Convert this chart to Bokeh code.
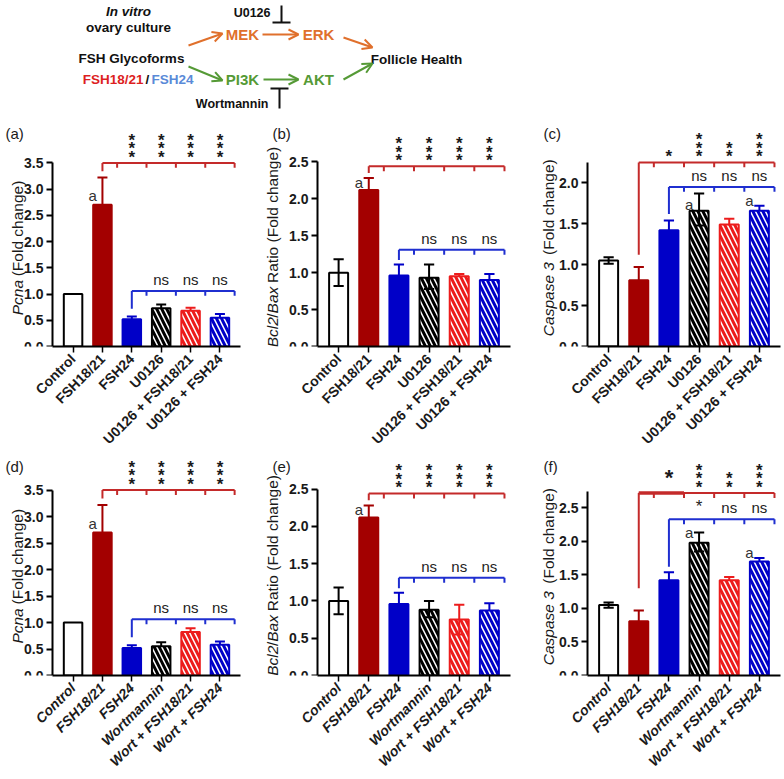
import math
import numpy as np
from bokeh.plotting import figure
from bokeh.layouts import column, row
from bokeh.models import Range1d, FixedTicker, Arrow, OpenHead, NumeralTickFormatter
from bokeh.core.properties import value
from bokeh.embed import file_html
from bokeh.resources import INLINE

FONT = "Liberation Sans"

# ---------------- data ----------------
cats_u0126 = ["Control", "FSH18/21", "FSH24", "U0126", "U0126 + FSH18/21", "U0126 + FSH24"]
cats_wort = ["Control", "FSH18/21", "FSH24", "Wortmannin", "Wort + FSH18/21", "Wort + FSH24"]

pcna_u_mean = [1.00, 2.70, 0.52, 0.73, 0.68, 0.55]
pcna_u_up = [0.00, 0.52, 0.05, 0.07, 0.06, 0.07]
pcna_u_dn = [0.00, 0.00, 0.00, 0.00, 0.00, 0.00]

bcl_u_mean = [1.00, 2.12, 0.96, 0.93, 0.95, 0.90]
bcl_u_up = [0.18, 0.16, 0.15, 0.18, 0.03, 0.08]
bcl_u_dn = [0.18, 0.00, 0.00, 0.15, 0.00, 0.00]

casp_u_mean = [1.05, 0.81, 1.42, 1.66, 1.49, 1.66]
casp_u_up = [0.04, 0.16, 0.12, 0.21, 0.07, 0.06]
casp_u_dn = [0.04, 0.00, 0.00, 0.18, 0.00, 0.00]

pcna_w_mean = [1.00, 2.70, 0.52, 0.55, 0.82, 0.58]
pcna_w_up = [0.00, 0.52, 0.05, 0.08, 0.07, 0.06]
pcna_w_dn = [0.00, 0.00, 0.00, 0.00, 0.00, 0.00]

bcl_w_mean = [1.00, 2.12, 0.96, 0.88, 0.75, 0.87]
bcl_w_up = [0.18, 0.16, 0.15, 0.12, 0.20, 0.10]
bcl_w_dn = [0.18, 0.00, 0.00, 0.10, 0.20, 0.00]

casp_w_mean = [1.05, 0.81, 1.42, 1.98, 1.42, 1.70]
casp_w_up = [0.04, 0.16, 0.12, 0.15, 0.05, 0.05]
casp_w_dn = [0.04, 0.00, 0.00, 0.13, 0.00, 0.00]

# significance marks (red: vs FSH18/21 for groups 2..5; blue: vs FSH24 for groups 3..5)
sig_red_a = ["***", "***", "***", "***"]
sig_blue_a = ["ns", "ns", "ns"]
sig_red_c = ["*", "***", "**", "***"]
sig_blue_c = ["ns", "ns", "ns"]
sig_red_f = ["*", "***", "**", "***"]
sig_blue_f = ["*", "ns", "ns"]

# "a" letters: group index and height
a_idx_pcna = [1]
a_y_pcna = [2.87]
a_idx_bcl = [1]
a_y_bcl = [2.22]
a_idx_casp_u = [3, 5]
a_y_casp_u = [1.74, 1.78]
a_idx_casp_w = [3, 5]
a_y_casp_w = [2.13, 1.83]

# ---------------- styles / layout ----------------
DARK_RED = "#a30000"
BLUE = "#0000c8"
RED = "#ec1c1c"
BR_RED = "#c42a2a"
BR_BLUE = "#1f2fd0"
FILL = ["white", DARK_RED, BLUE, "white", "white", "white"]
LINE = ["black", DARK_RED, BLUE, "black", RED, BLUE]
HATCH = [" ", " ", " ", "\\", "\\", "\\"]

TOP_H = 122
ROW_H = [333, 323]
ROW_BB = [105, 100]
COL_W = [260, 260, 263]
COL_AX = [52, 57, 67]        # pixel position of the y axis inside each panel
COL_FW = [188, 193, 193]     # pixel width of the plotting area right of the y axis
COL_YLAB = [35, 45, 39]
COL_TAG = [47, 45, 44]
XAX, XHI = -0.7, 5.7

ARIAL_W = {" ": 278, "(": 333, ")": 333, "/": 278, "2": 556, "3": 556, "B": 667, "C": 722,
           "F": 611, "P": 667, "R": 722, "a": 556, "c": 500, "d": 556, "e": 556, "g": 556,
           "h": 556, "i": 222, "l": 222, "n": 556, "o": 556, "p": 556, "s": 500, "t": 278, "x": 500}


def tw(s, size):
    return sum(ARIAL_W.get(ch, 556) for ch in s) * size / 1000.0


def make_panel(r, c, tag, cats, mean, up, dn, axis_top, yticks, ppu, red_level, red_drop,
               blue_level, blue_drop, red_marks, blue_marks, a_idx, a_y, ylabel, italic_x,
               emphasize=False):
    n = len(cats)
    xs = np.arange(n)
    W, H = COL_W[c], ROW_H[r]
    xpx = (XHI - XAX) / COL_FW[c]
    BR = W - COL_AX[c] - COL_FW[c]
    xlo = XAX - COL_AX[c] * xpx
    frame_h = H - 1 - ROW_BB[r]
    ytop = frame_h / ppu
    upx = 1.0 / ppu
    p = figure(width=W, height=H, x_range=Range1d(xlo, XHI), y_range=Range1d(0, ytop),
               toolbar_location=None, output_backend="svg",
               min_border_left=0, min_border_right=BR, min_border_top=1,
               min_border_bottom=ROW_BB[r])
    p.outline_line_color = None
    p.xgrid.visible = False
    p.ygrid.visible = False

    p.vbar(x=xs, top=mean, bottom=0, width=0.63, fill_color=FILL, line_color=LINE, line_width=2,
           hatch_pattern=HATCH, hatch_color=LINE, hatch_scale=10, hatch_weight=3)

    m = np.array(mean)
    u = np.array(up)
    d = np.array(dn)
    cols = np.array(LINE)
    has = u > 0
    p.segment(x0=xs[has], y0=(m - d)[has], x1=xs[has], y1=(m + u)[has],
              line_color=list(cols[has]), line_width=2)
    p.segment(x0=xs[has] - 0.17, y0=(m + u)[has], x1=xs[has] + 0.17, y1=(m + u)[has],
              line_color=list(cols[has]), line_width=2)
    lo = d > 0
    p.segment(x0=xs[lo] - 0.17, y0=(m - d)[lo], x1=xs[lo] + 0.17, y1=(m - d)[lo],
              line_color=list(cols[lo]), line_width=2)

    # red bracket
    rt = np.arange(1.5, n, 1.0)
    p.segment(x0=[1], y0=[red_level], x1=[n - 0.5], y1=[red_level], line_color=BR_RED, line_width=2)
    p.segment(x0=[1], y0=[red_level], x1=[1], y1=[red_drop], line_color=BR_RED, line_width=2)
    p.segment(x0=rt, y0=red_level, x1=rt, y1=red_level - 5 * upx, line_color=BR_RED, line_width=2)
    if emphasize:
        p.segment(x0=[1], y0=[red_level], x1=[2.5], y1=[red_level], line_color=BR_RED, line_width=3.5)
    # blue bracket
    bt = np.arange(2.5, n, 1.0)
    p.segment(x0=[2], y0=[blue_level], x1=[n - 0.5], y1=[blue_level], line_color=BR_BLUE, line_width=2)
    p.segment(x0=[2], y0=[blue_level], x1=[2], y1=[blue_drop], line_color=BR_BLUE, line_width=2)
    p.segment(x0=bt, y0=blue_level, x1=bt, y1=blue_level - 5 * upx, line_color=BR_BLUE, line_width=2)

    # significance texts
    marks = list(red_marks)
    if emphasize:
        p.text(x=[2], y=[red_level + 3 * upx], text=[marks[0]], text_font=value(FONT),
               text_font_size="22px", text_font_style="bold", text_color="#1a1a1a",
               text_align="center", text_baseline="bottom")
        marks[0] = ""
    rx = list(range(2, 2 + len(marks)))
    stacked = ["\n".join(list(s)) for s in marks]
    p.text(x=rx, y=[red_level - 4 * upx] * len(rx), text=stacked, text_font=value(FONT),
           text_font_size="17px", text_font_style="bold", text_color="#1a1a1a",
           text_align="center", text_baseline="bottom", text_line_height=0.45)
    bx = list(range(3, 3 + len(blue_marks)))
    bt_txt = ["\n".join(list(s)) if s.startswith("*") else s for s in blue_marks]
    bsize = ["17px" if s.startswith("*") else "15px" for s in blue_marks]
    p.text(x=bx, y=[blue_level + 3 * upx] * len(bx), text=bt_txt, text_font=value(FONT),
           text_font_size=bsize, text_color="#222222", text_align="center",
           text_baseline="bottom")

    # "a" letters
    p.text(x=[i - 0.33 for i in a_idx], y=a_y, text=["a"] * len(a_idx), text_font=value(FONT),
           text_font_size="15px", text_color="#333333", text_align="center", text_baseline="middle")

    # axes
    yax = p.yaxis[0]
    yax.fixed_location = XAX
    yax.ticker = FixedTicker(ticks=yticks)
    yax.formatter = NumeralTickFormatter(format="0.0")
    yax.bounds = (0, axis_top)
    yax.axis_line_width = 2
    yax.major_tick_line_width = 2
    yax.major_tick_out = 6
    yax.major_tick_in = 0
    yax.minor_tick_line_color = None
    yax.major_label_text_font = FONT
    yax.major_label_text_font_style = "bold"
    yax.major_label_text_font_size = "14px"
    yax.major_label_text_color = "#1a1a1a"
    yax.major_label_standoff = 3

    xax = p.xaxis[0]
    xax.ticker = FixedTicker(ticks=list(range(n)))
    xax.bounds = (XAX, XHI)
    xax.major_label_overrides = {i: c_ for i, c_ in enumerate(cats)}
    xax.major_label_orientation = math.pi / 4
    xax.axis_line_width = 2
    xax.major_tick_line_width = 1.5
    xax.major_tick_out = 6
    xax.major_tick_in = 0
    xax.minor_tick_line_color = None
    xax.major_label_text_font = FONT
    xax.major_label_text_font_style = "bold italic" if italic_x else "bold"
    xax.major_label_text_font_size = "14px"
    xax.major_label_text_color = "#1a1a1a"
    xax.major_label_standoff = 4

    # y-axis title from pieces (italic gene names)
    size = 15.5
    total = sum(tw(t, size) for t, _ in ylabel)
    off = (axis_top / 2.0) * ppu + 6 - total / 2.0
    lx = XAX - COL_YLAB[c] * xpx
    it_x, it_y, it_t, no_x, no_y, no_t = [], [], [], [], [], []
    for txt, ital in ylabel:
        if txt.strip():
            lead = tw(txt[: len(txt) - len(txt.lstrip())], size)
            (it_x if ital else no_x).append(lx)
            (it_y if ital else no_y).append((off + lead) * upx)
            (it_t if ital else no_t).append(txt.strip())
        off += tw(txt, size)
    p.text(x=it_x, y=it_y, text=it_t, angle=math.pi / 2, text_font=value(FONT),
           text_font_size=f"{size}px", text_font_style="italic", text_color="#1a1a1a",
           text_align="left", text_baseline="middle")
    p.text(x=no_x, y=no_y, text=no_t, angle=math.pi / 2, text_font=value(FONT),
           text_font_size=f"{size}px", text_font_style="normal", text_color="#1a1a1a",
           text_align="left", text_baseline="middle")

    # panel tag
    p.text(x=[XAX - COL_TAG[c] * xpx], y=[ytop - 2 * upx], text=[tag], text_font=value(FONT),
           text_font_size="15px", text_color="#1a1a1a", text_align="left", text_baseline="top")
    return p


lab_pcna = [("Pcna", True), (" (Fold change)", False)]
lab_bcl = [("Bcl2", True), ("/", False), ("Bax", True), (" Ratio (Fold change)", False)]
lab_casp = [("Caspase  3", True), (" (Fold change)", False)]

t35 = [0, 0.5, 1.0, 1.5, 2.0, 2.5, 3.0, 3.5]
t25 = [0, 0.5, 1.0, 1.5, 2.0, 2.5]
t20 = [0, 0.5, 1.0, 1.5, 2.0]

pa = make_panel(0, 0, "(a)", cats_u0126, pcna_u_mean, pcna_u_up, pcna_u_dn, 3.5, t35, 53.4, 3.5, 3.34,
                1.06, 0.72, sig_red_a, sig_blue_a, a_idx_pcna, a_y_pcna, lab_pcna, False)
pb = make_panel(0, 1, "(b)", cats_u0126, bcl_u_mean, bcl_u_up, bcl_u_dn, 2.5, t25, 75.2, 2.44, 2.35,
                1.31, 1.17, sig_red_a, sig_blue_a, a_idx_bcl, a_y_bcl, lab_bcl, False)
pc = make_panel(0, 2, "(c)", cats_u0126, casp_u_mean, casp_u_up, casp_u_dn, 2.25, t20, 83.3, 2.25, 1.12,
                1.95, 1.62, sig_red_c, sig_blue_c, a_idx_casp_u, a_y_casp_u, lab_casp, False)
pd_ = make_panel(1, 0, "(d)", cats_wort, pcna_w_mean, pcna_w_up, pcna_w_dn, 3.5, t35, 53.7, 3.5, 3.34,
                 1.06, 0.72, sig_red_a, sig_blue_a, a_idx_pcna, a_y_pcna, lab_pcna, True)
pe = make_panel(1, 1, "(e)", cats_wort, bcl_w_mean, bcl_w_up, bcl_w_dn, 2.5, t25, 75.6, 2.44, 2.35,
                1.31, 1.17, sig_red_a, sig_blue_a, a_idx_bcl, a_y_bcl, lab_bcl, True)
pf = make_panel(1, 2, "(f)", cats_wort, casp_w_mean, casp_w_up, casp_w_dn, 2.75, t25, 68.0, 2.72, 1.3,
                2.33, 1.62, sig_red_f, sig_blue_f, a_idx_casp_w, a_y_casp_w, lab_casp, True,
                emphasize=True)

# ---------------- top schematic (coordinates in page pixels) ----------------
ORANGE = "#e0702c"
GREEN = "#559a36"
LRED = "#dd1f1f"
LBLUE = "#5a8ad8"

TOP_W = sum(COL_W)
top = figure(width=TOP_W, height=TOP_H, x_range=Range1d(0, TOP_W), y_range=Range1d(TOP_H, 0),
             toolbar_location=None, output_backend="svg", min_border=0)
top.axis.visible = False
top.grid.visible = False
top.outline_line_color = None

node_text = ["MEK", "ERK", "PI3K", "AKT"]
node_x = [242, 318, 242, 318]
node_y = [34, 34, 79, 79]
node_col = [ORANGE, ORANGE, GREEN, GREEN]
top.text(x=node_x, y=node_y, text=node_text, text_color=node_col, text_font=value(FONT),
         text_font_style="bold", text_font_size="15px", text_align="center", text_baseline="middle")

lab_text = ["ovary culture", "FSH Glycoforms", "Follicle Health"]
lab_x = [128, 131, 416]
lab_y = [27, 58, 59]
top.text(x=lab_x, y=lab_y, text=lab_text, text_color="#111111", text_font=value(FONT),
         text_font_style="bold", text_font_size="13.5px", text_align="center", text_baseline="middle")
top.text(x=[128], y=[11], text=["In vitro"], text_color="#111111", text_font=value(FONT),
         text_font_style="bold italic", text_font_size="13.5px", text_align="center", text_baseline="middle")
top.text(x=[143], y=[79], text=["FSH18/21"], text_color=LRED, text_font=value(FONT),
         text_font_style="bold", text_font_size="13.5px", text_align="right", text_baseline="middle")
top.text(x=[147], y=[79], text=["/"], text_color="#111111", text_font=value(FONT),
         text_font_style="bold", text_font_size="13.5px", text_align="center", text_baseline="middle")
top.text(x=[151], y=[79], text=["FSH24"], text_color=LBLUE, text_font=value(FONT),
         text_font_style="bold", text_font_size="13.5px", text_align="left", text_baseline="middle")
top.text(x=[270, 268], y=[12, 103], text=["U0126", "Wortmannin"], text_color="#111111",
         text_font=value(FONT), text_font_style="bold", text_font_size="12.5px",
         text_align="right", text_baseline="middle")

# inhibitor bars
top.segment(x0=[281, 272, 279, 270], y0=[5, 22, 88, 88], x1=[281, 290, 279, 288], y1=[22, 22, 108, 88],
            line_color="#111111", line_width=2)

arr_x0 = [188, 262, 343, 188, 263, 343]
arr_y0 = [45, 34, 37, 66, 79, 79]
arr_x1 = [222, 298, 372, 222, 298, 372]
arr_y1 = [33, 34, 47, 80, 79, 63]
arr_c = [ORANGE, ORANGE, ORANGE, GREEN, GREEN, GREEN]
for x0, y0, x1, y1, c in zip(arr_x0, arr_y0, arr_x1, arr_y1, arr_c):
    top.add_layout(Arrow(x_start=x0, y_start=y0, x_end=x1, y_end=y1, line_color=c, line_width=2,
                         end=OpenHead(size=10, line_color=c, line_width=2)))

layout = column(top, row(pa, pb, pc), row(pd_, pe, pf))
open("out.html", "w").write(file_html(layout, INLINE))
